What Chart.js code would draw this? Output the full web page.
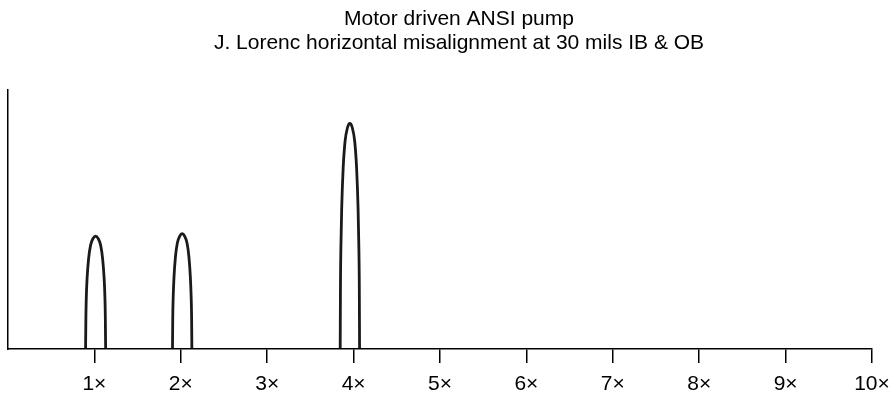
<!DOCTYPE html>
<html>
<head>
<meta charset="utf-8">
<script src="https://cdn.jsdelivr.net/npm/chart.js@4/dist/chart.umd.min.js"></script>
<style>
  html, body { margin: 0; padding: 0; background: #fff; }
  #wrap { width: 896px; height: 397px; }
</style>
</head>
<body>
<div id="wrap"><canvas id="c" width="896" height="397"></canvas></div>
<script>
// Title lines
const titleLines = ["Motor driven ANSI pump", "J. Lorenc horizontal misalignment at 30 mils IB & OB"];

// Tick labels on the order axis (orders 1..10)
const tickValues = [1, 2, 3, 4, 5, 6, 7, 8, 9, 10];
const tickLabels = ["1×", "2×", "3×", "4×", "5×", "6×", "7×", "8×", "9×", "10×"];

// Peak at 1× (order, amplitude in % of axis height)
const peak1X = [0.898, 0.9015, 0.906, 0.915, 0.933, 0.956, 0.985, 1.014, 1.043, 1.072, 1.095, 1.113, 1.122, 1.1265, 1.130];
const peak1Y = [0.4, 12.2, 19.6, 27.0, 34.8, 40.0, 42.6, 43.5, 42.6, 40.0, 34.8, 27.0, 19.6, 12.2, 0.4];

// Peak at 2×
const peak2X = [1.904, 1.907, 1.912, 1.921, 1.938, 1.960, 1.988, 2.016, 2.044, 2.072, 2.094, 2.111, 2.120, 2.125, 2.128];
const peak2Y = [0.4, 12.4, 20.0, 27.5, 35.5, 40.8, 43.5, 44.4, 43.5, 40.8, 35.5, 27.5, 20.0, 12.4, 0.4];

// Peak near 4×
const peak4X = [3.845, 3.848, 3.853, 3.862, 3.879, 3.901, 3.929, 3.957, 3.985, 4.013, 4.035, 4.052, 4.061, 4.066, 4.069];
const peak4Y = [0.4, 24.3, 39.1, 53.9, 69.5, 79.9, 85.2, 86.9, 85.2, 79.9, 69.5, 53.9, 39.1, 24.3, 0.4];

const toPts = (xs, ys) => xs.map((x, i) => ({ x: x, y: ys[i] }));

const lineStyle = {
  borderColor: '#1a1a1a',
  borderWidth: 2.8,
  pointRadius: 0,
  fill: false,
  showLine: true,
  cubicInterpolationMode: 'monotone'
};

const FONT = "'Liberation Sans', Arial, Helvetica, sans-serif";

// Shift the title block so it is centred like the reference (slightly right of the plot centre)
const titleShift = {
  id: 'titleShift',
  afterLayout(chart) {
    if (chart.titleBlock) {
      chart.titleBlock.left += 38;
    }
  }
};

new Chart(document.getElementById('c'), {
  type: 'scatter',
  data: {
    datasets: [
      Object.assign({ label: '1×', data: toPts(peak1X, peak1Y) }, lineStyle),
      Object.assign({ label: '2×', data: toPts(peak2X, peak2Y) }, lineStyle),
      Object.assign({ label: '4×', data: toPts(peak4X, peak4Y) }, lineStyle)
    ]
  },
  plugins: [titleShift],
  options: {
    responsive: false,
    animation: false,
    devicePixelRatio: 1,
    layout: { padding: { left: 8, right: 24, top: 0, bottom: 0 } },
    plugins: {
      legend: { display: false },
      tooltip: { enabled: false },
      title: {
        display: true,
        text: titleLines,
        color: '#000',
        font: { family: FONT, size: 21, weight: 'normal', lineHeight: 1.15 },
        padding: { top: 7, bottom: 34 }
      }
    },
    scales: {
      x: {
        type: 'linear',
        min: 0,
        max: 10,
        afterBuildTicks: (scale) => {
          scale.ticks = tickValues.map(v => ({ value: v }));
        },
        afterFit: (scale) => {
          scale.height = 48;
          scale.paddingRight = 0;
          scale.paddingLeft = 0;
        },
        ticks: {
          color: '#000',
          font: { family: FONT, size: 21 },
          padding: 9,
          maxRotation: 0,
          autoSkip: false,
          callback: (v) => tickLabels[tickValues.indexOf(v)] ?? ''
        },
        grid: {
          display: true,
          drawOnChartArea: false,
          drawTicks: true,
          tickLength: 14,
          color: '#000',
          lineWidth: 1.5
        },
        border: { display: true, color: '#000', width: 1.5 }
      },
      y: {
        min: 0,
        max: 100,
        ticks: { display: false },
        grid: { display: false, drawTicks: false },
        border: { display: true, color: '#000', width: 1.5 }
      }
    }
  }
});
</script>
</body>
</html>
